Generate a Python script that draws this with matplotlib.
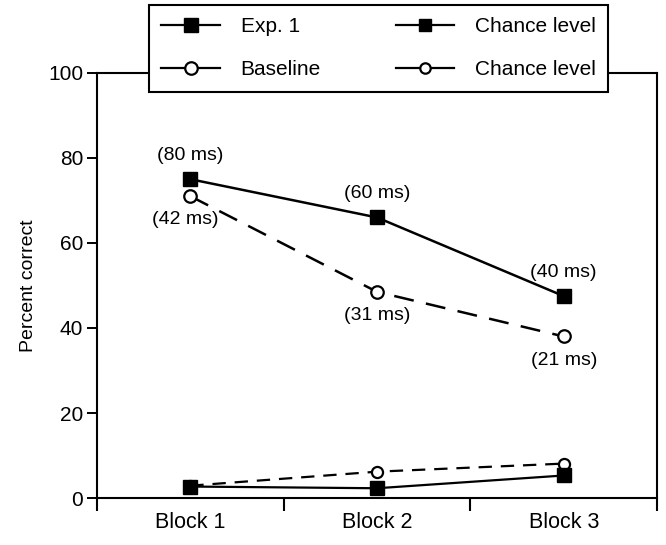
import matplotlib.pyplot as plt
from matplotlib.lines import Line2D
from matplotlib.ticker import FixedLocator

plt.rcParams['font.family'] = ['Liberation Sans', 'DejaVu Sans']

# Data
blocks = [1, 2, 3]
block_labels = ["Block 1", "Block 2", "Block 3"]
exp1 = [75, 66, 47.5]
baseline = [71, 48.5, 38]
chance_exp1 = [2.7, 2.3, 5.3]
chance_baseline = [2.9, 6.2, 8.1]
exp1_times = ["(80 ms)", "(60 ms)", "(40 ms)"]
baseline_times = ["(42 ms)", "(31 ms)", "(21 ms)"]

fig = plt.figure(figsize=(6.66, 5.45), dpi=100)
ax = fig.add_axes([0.1456, 0.0862, 0.841, 0.78])

# chance level lines
ax.plot(blocks, chance_baseline, color='black', lw=1.6, ls=(0, (6, 4)),
        marker='o', ms=8, mfc='white', mec='black', mew=1.6, zorder=3)
ax.plot(blocks, chance_exp1, color='black', lw=1.6, ls='-',
        marker='s', ms=10, mfc='black', mec='black', zorder=4)

# main curves
ax.plot(blocks, baseline, color='black', lw=1.8, ls=(0, (8, 5)),
        marker='o', ms=9, mfc='white', mec='black', mew=1.6, zorder=3)
ax.plot(blocks, exp1, color='black', lw=1.8, ls='-',
        marker='s', ms=10, mfc='black', mec='black', zorder=4)

# presentation times next to the points
fs = 14
for x, y, t in zip(blocks, exp1, exp1_times):
    ax.annotate(t, (x, y), xytext=(0, 11), textcoords='offset points',
                ha='center', va='bottom', fontsize=fs)
for i, (x, y, t) in enumerate(zip(blocks, baseline, baseline_times)):
    ax.annotate(t, (x, y), xytext=(-4 if i == 0 else 0, -11),
                textcoords='offset points', ha='center', va='top', fontsize=fs)

ax.set_xlim(0.5, 3.5)
ax.set_ylim(0, 100)
ax.set_xticks(blocks)
ax.set_xticklabels(block_labels, fontsize=15.5)
ax.tick_params(axis='x', which='major', length=0, pad=10)
ax.xaxis.set_minor_locator(FixedLocator([0.5, 1.5, 2.5, 3.5]))
ax.tick_params(axis='x', which='minor', direction='out', length=9, width=1.5)
ax.set_yticks([0, 20, 40, 60, 80, 100])
ax.tick_params(axis='y', direction='out', length=7, width=1.4, labelsize=15, pad=3)
ax.set_ylabel("Percent correct", fontsize=14, labelpad=8)
for sp in ax.spines.values():
    sp.set_linewidth(1.5)

# legend with plain line handles
handles = [
    Line2D([], [], color='black', lw=1.6, marker='s', ms=10, mfc='black'),
    Line2D([], [], color='black', lw=1.6, marker='o', ms=9, mfc='white', mew=1.6),
    Line2D([], [], color='black', lw=1.6, marker='s', ms=8, mfc='black'),
    Line2D([], [], color='black', lw=1.6, marker='o', ms=7.5, mfc='white', mew=1.6),
]
labels = ["Exp. 1", "Baseline", "Chance level", "Chance level"]
leg = ax.legend(handles, labels, ncol=2, loc='upper center',
                bbox_to_anchor=(0.503, 1.16), fontsize=15, frameon=True,
                fancybox=False, edgecolor='black', framealpha=1,
                handlelength=2.8, columnspacing=3.6, borderpad=0.6,
                labelspacing=1.15, handletextpad=1.0, borderaxespad=0)
leg.get_frame().set_linewidth(1.5)
leg.set_zorder(10)

fig.savefig("out.png", dpi=100)
